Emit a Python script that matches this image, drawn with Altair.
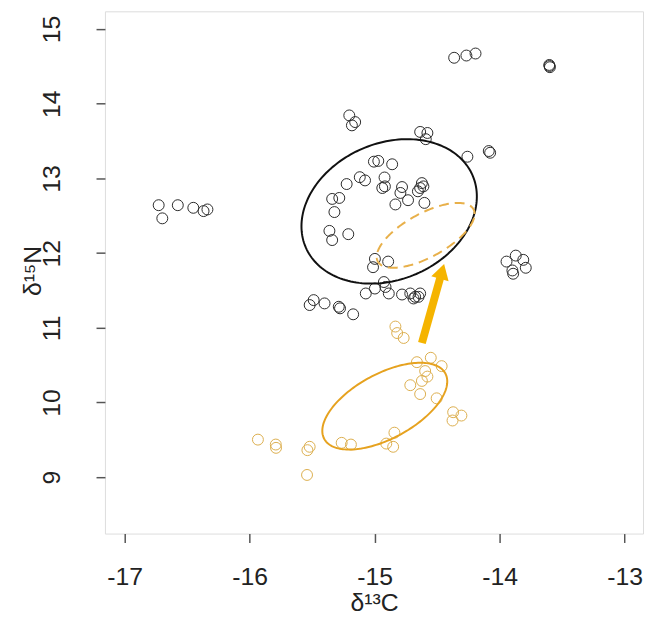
import altair as alt
import numpy as np
import pandas as pd

# ---- data ----
black_x = [-14.364, -14.266, -14.193, -13.601, -13.598, -13.603,
           -15.203, -15.156, -15.182, -14.636, -14.578, -14.591,
           -14.258, -14.087, -14.076,
           -16.728, -16.699, -16.575, -16.451, -16.369, -16.338,
           -15.006, -14.971, -14.860, -15.119, -15.077, -15.224, -14.921,
           -14.939, -14.918, -14.781, -14.794, -14.733, -14.834,
           -14.622, -14.636, -14.654, -14.610, -14.602,
           -15.340, -15.283, -15.322, -15.362, -15.340, -15.211,
           -14.998, -14.892, -15.013,
           -14.926, -14.913, -14.887, -14.998, -15.071,
           -14.781, -14.715, -14.676, -14.636, -14.689, -14.649,
           -15.520, -15.488, -15.401, -15.287, -15.277, -15.172,
           -13.945, -13.871, -13.811, -13.791, -13.898, -13.892]
black_y = [14.616, 14.646, 14.673, 14.506, 14.490, 14.520,
           13.844, 13.755, 13.711, 13.623, 13.609, 13.526,
           13.291, 13.367, 13.344,
           12.642, 12.466, 12.642, 12.607, 12.563, 12.585,
           13.225, 13.235, 13.190, 13.017, 12.974, 12.925, 13.013,
           12.872, 12.894, 12.885, 12.806, 12.709, 12.652,
           12.938, 12.872, 12.828, 12.894, 12.673,
           12.726, 12.739, 12.550, 12.298, 12.175, 12.254,
           11.923, 11.887, 11.812,
           11.613, 11.547, 11.460, 11.526, 11.460,
           11.446, 11.460, 11.415, 11.460, 11.393, 11.415,
           11.305, 11.371, 11.327, 11.282, 11.261, 11.181,
           11.887, 11.967, 11.910, 11.804, 11.768, 11.724]

orange_x = [-14.834, -14.820, -14.768,
            -14.662, -14.551, -14.464,
            -14.596, -14.578, -14.622, -14.715, -14.636, -14.504,
            -14.372, -14.306, -14.377,
            -14.842, -14.852, -14.907,
            -15.264, -15.190,
            -15.934, -15.791, -15.789, -15.538, -15.520, -15.541]
orange_y = [11.017, 10.930, 10.864,
            10.540, 10.599, 10.487,
            10.421, 10.347, 10.289, 10.232, 10.113, 10.056,
            9.870, 9.825, 9.759,
            9.596, 9.407, 9.450,
            9.460, 9.437,
            9.503, 9.437, 9.393, 9.362, 9.407, 9.030]

# ellipse parameters: centre (x, y) and shape factors (a, b, c)
ell_black = [-14.884, 12.559, 0.7016, 0.200, 0.946]
ell_orange = [-14.919, 9.951, 0.4998, 0.331, 0.4775]
ell_dashed = [-14.592, 12.238, 0.3918, 0.2868, 0.326]

# arrow: shaft start/end, head position and direction
arrow_x = [-14.622, -14.476]
arrow_y = [10.797, 11.667]
head_x = [-14.461]
head_y = [11.755]
head_angle = 15.8

x_ticks = [-17, -16, -15, -14, -13]
y_ticks = [9, 10, 11, 12, 13, 14, 15]

FONT = "Liberation Sans"
XDOM = [-17.158, -12.853]
YDOM = [8.245, 15.238]


def ellipse_df(p):
    t = np.linspace(0, 2 * np.pi, 181)
    return pd.DataFrame({
        "x": p[0] + p[2] * np.cos(t),
        "y": p[1] + p[3] * np.cos(t) + p[4] * np.sin(t),
        "i": np.arange(len(t)),
    })


xs = alt.Scale(domain=XDOM, nice=False, zero=False)
ys = alt.Scale(domain=YDOM, nice=False, zero=False)

xaxis = alt.Axis(values=x_ticks, labelExpr="'' + datum.value", grid=False,
                 domain=False, tickSize=9, tickColor="#555", tickWidth=1.5,
                 labelFontSize=25, labelColor="#222", labelFont=FONT,
                 labelPadding=22, title="δ¹³C", titleFontSize=25,
                 titleFont=FONT, titleFontWeight="normal", titleColor="#222",
                 titleBaseline="alphabetic", titleY=78)
yaxis = alt.Axis(values=y_ticks, labelExpr="'' + datum.value", grid=False,
                 domain=False, tickSize=9, tickColor="#555", tickWidth=1.5,
                 labelFontSize=25, labelColor="#222", labelFont=FONT,
                 labelAngle=-90, labelAlign="center",
                 labelBaseline="alphabetic", labelPadding=37,
                 title="δ¹⁵N", titleFontSize=25, titleAngle=-90,
                 titleFont=FONT, titleFontWeight="normal", titleColor="#222",
                 titleBaseline="alphabetic", titleAlign="center",
                 titleX=-65, titleY=262)

df_black = pd.DataFrame({"x": black_x, "y": black_y})
df_orange = pd.DataFrame({"x": orange_x, "y": orange_y})

base_x = alt.X("x:Q", scale=xs, axis=xaxis)
base_y = alt.Y("y:Q", scale=ys, axis=yaxis)

pts_black = alt.Chart(df_black).mark_point(
    shape="circle", filled=False, size=122, stroke="#2a2a2a", strokeWidth=1,
    opacity=1).encode(x=base_x, y=base_y)
pts_orange = alt.Chart(df_orange).mark_point(
    shape="circle", filled=False, size=122, stroke="#dcae4e", strokeWidth=1,
    opacity=1).encode(x="x:Q", y="y:Q")

e_black = alt.Chart(ellipse_df(ell_black)).mark_line(
    color="#111111", strokeWidth=2).encode(x="x:Q", y="y:Q", order="i:Q")
e_orange = alt.Chart(ellipse_df(ell_orange)).mark_line(
    color="#e6a21f", strokeWidth=2).encode(x="x:Q", y="y:Q", order="i:Q")
e_dashed = alt.Chart(ellipse_df(ell_dashed)).mark_line(
    color="#e8b04a", strokeWidth=2, strokeDash=[10, 6]).encode(
    x="x:Q", y="y:Q", order="i:Q")

df_arrow = pd.DataFrame({"x": [arrow_x[0]], "y": [arrow_y[0]],
                         "x2": [arrow_x[1]], "y2": [arrow_y[1]]})
shaft = alt.Chart(df_arrow).mark_rule(
    color="#f5b400", strokeWidth=8, strokeCap="butt").encode(
    x="x:Q", y="y:Q", x2="x2:Q", y2="y2:Q")
df_head = pd.DataFrame({"x": head_x, "y": head_y})
head = alt.Chart(df_head).mark_point(
    shape="M0,-0.85L1,0.85L-1,0.85Z", size=330, filled=True,
    color="#f5b400", opacity=1, angle=head_angle).encode(x="x:Q", y="y:Q")

chart = alt.layer(pts_black, pts_orange, e_black, e_dashed, e_orange,
                  shaft, head).properties(
    width=544, height=528,
    autosize=alt.AutoSizeParams(type="none"),
    padding={"left": 98, "top": 0, "right": 1, "bottom": 82},
).configure_view(stroke="#555", strokeWidth=1.5).configure(background="white")

chart.save("out.html", embed_options={"renderer": "svg", "actions": False})
